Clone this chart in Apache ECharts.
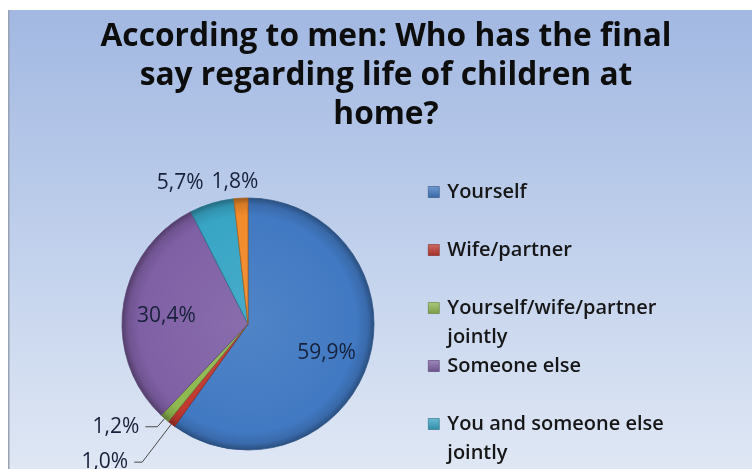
<!DOCTYPE html>
<html>
<head>
<meta charset="utf-8">
<script src="https://cdn.jsdelivr.net/npm/echarts@6/dist/echarts.min.js"></script>
<style>
html,body{margin:0;padding:0;background:#ffffff;}
#chart{width:752px;height:469px;}
</style>
</head>
<body>
<div id="chart"></div>
<script>
// ---- data ----
const titleText = 'According to men: Who has the final\nsay regarding life of children at\nhome?';
const categories = ['Yourself', 'Wife/partner', 'Yourself/wife/partner jointly', 'Someone else', 'You and someone else jointly', 'Other'];
const shares = [59.9, 1.0, 1.2, 30.4, 5.7, 1.8];
const legendNames = ['Yourself', 'Wife/partner', 'Yourself/wife/partner jointly', 'Someone else', 'You and someone else jointly'];

// ---- style / layout ----
const baseColors = ['#4179c2', '#c0392f', '#8fb850', '#7f60a5', '#38a5c5', '#f28b2a'];
const labelModes = ['inside', 'line', 'line', 'inside', 'outside', 'outsideCenter'];
const lineLen1 = [10, 48, 11, 10, 21, 16];
const lineLen2 = [0, 8, 12, 0, 0, 0];
const CX = 248, CY = 324, R = 126;
const legendCenters = [192, 250, 308, 366, 424];
const FONT = '"Open Sans", Carlito, Lato, sans-serif';

function shade(hex, f) {
  const n = parseInt(hex.slice(1), 16);
  let r = (n >> 16) & 255, g = (n >> 8) & 255, b = n & 255;
  if (f >= 0) { r += (255 - r) * f; g += (255 - g) * f; b += (255 - b) * f; }
  else { r *= (1 + f); g *= (1 + f); b *= (1 + f); }
  return 'rgb(' + Math.round(r) + ',' + Math.round(g) + ',' + Math.round(b) + ')';
}

function wrapName(name) {
  const words = name.split(' ');
  const lines = [];
  let cur = '';
  words.forEach(w => {
    const t = cur ? cur + ' ' + w : w;
    if (t.length > 22 && cur) { lines.push(cur); cur = w; } else { cur = t; }
  });
  lines.push(cur);
  return lines.length > 1 ? '\n' + lines.join('\n') : lines[0];
}

const pieData = categories.map((name, i) => {
  const base = baseColors[i];
  const mode = labelModes[i];
  return {
    name: name,
    value: shares[i],
    itemStyle: {
      color: {
        type: 'radial', x: CX, y: CY, r: R, global: true,
        colorStops: [
          { offset: 0, color: shade(base, 0.08) },
          { offset: 0.86, color: base },
          { offset: 0.95, color: shade(base, -0.12) },
          { offset: 1, color: shade(base, -0.35) }
        ]
      },
      borderColor: shade(base, -0.3),
      borderWidth: 0.8
    },
    label: {
      position: mode === 'inside' ? 'inside' : 'outside',
      distanceToLabelLine: mode === 'line' ? 6 : 2,
      padding: mode === 'line' ? [0, 0, 8, 0] : 0
    },
    labelLine: {
      show: mode === 'line',
      length: lineLen1[i],
      length2: lineLen2[i],
      lineStyle: { color: '#4a4a4a', width: 1 }
    }
  };
});

const LH = 29;
const legends = legendNames.map((n, i) => {
  const wrapped = wrapName(n);
  const lines = wrapped.split('\n').length;
  const base = baseColors[i];
  return {
    data: [n],
    orient: 'vertical',
    left: 428,
    top: legendCenters[i] - (lines * LH) / 2,
    padding: 0,
    icon: 'rect',
    itemWidth: 11,
    itemHeight: 11,
    itemGap: 0,
    selectedMode: false,
    formatter: () => wrapped,
    itemStyle: {
      color: {
        type: 'linear', x: 0, y: 0, x2: 0, y2: 1,
        colorStops: [
          { offset: 0, color: shade(base, 0.25) },
          { offset: 1, color: shade(base, -0.15) }
        ]
      },
      borderColor: shade(base, -0.35),
      borderWidth: 0.6
    },
    textStyle: { fontFamily: FONT, fontSize: 20, fontWeight: 600, color: '#161616', lineHeight: LH, padding: [0, 0, 0, 3] }
  };
});

const chart = echarts.init(document.getElementById('chart'), null, { renderer: 'canvas' });
chart.setOption({
  animation: false,
  color: baseColors,
  graphic: [
    {
      type: 'rect', z: -10, silent: true,
      shape: { x: 9, y: 10, width: 743, height: 459 },
      style: {
        fill: {
          type: 'linear', x: 0, y: 0, x2: 0, y2: 1,
          colorStops: [
            { offset: 0, color: '#a2b8e2' },
            { offset: 0.5, color: '#c0d0ec' },
            { offset: 1, color: '#dfe7f4' }
          ]
        }
      }
    },
    {
      type: 'rect', z: -9, silent: true,
      shape: { x: 8, y: 10, width: 1.5, height: 459 },
      style: { fill: '#98a2b2' }
    }
  ],
  title: {
    text: titleText,
    left: 381,
    textAlign: 'center',
    top: 12,
    textStyle: { fontFamily: FONT, fontSize: 31.7, fontWeight: 'bold', color: '#0d0d0d', lineHeight: 39 }
  },
  legend: legends,
  series: [{
    type: 'pie',
    center: [CX, CY],
    radius: R,
    startAngle: 90,
    clockwise: true,
    avoidLabelOverlap: false,
    data: pieData,
    label: {
      show: true,
      fontFamily: FONT,
      fontSize: 21,
      color: '#17213a',
      formatter: p => p.value.toFixed(1).replace('.', ',') + '%'
    },
    labelLayout: function (p) {
      const mode = labelModes[p.dataIndex];
      const r = p.labelRect;
      if (mode === 'inside') {
        const lx = r.x + r.width / 2 - CX;
        const ly = r.y + r.height / 2 - CY;
        return { dx: lx * 0.25, dy: ly * 0.25 + 4 };
      }
      if (mode === 'outsideCenter') {
        return { dx: r.width / 2 - 3 };
      }
      return {};
    }
  }]
});
</script>
</body>
</html>
